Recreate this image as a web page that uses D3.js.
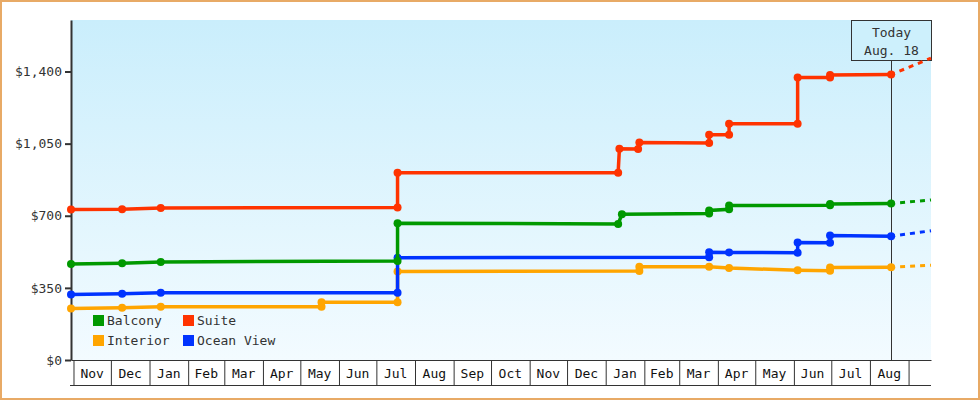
<!DOCTYPE html>
<html>
<head>
<meta charset="utf-8">
<script src="https://cdn.jsdelivr.net/npm/d3@7"></script>
<style>
  body { margin: 0; background: #fff; }
  svg { display: block; font-family: 'DejaVu Sans Mono', monospace; }
</style>
</head>
<body>
<div class="container"></div>
<script>
// price history per cabin type: [date, price]
const balcony = [
  ['2007-10-30', 466], ['2007-12-10', 470], ['2008-01-10', 476], ['2008-07-18', 480],
  ['2008-07-18', 664], ['2009-01-11', 660], ['2009-01-14', 707], ['2009-03-25', 711],
  ['2009-03-25', 726], ['2009-04-10', 731], ['2009-04-10', 750], ['2009-06-30', 751],
  ['2009-06-30', 757], ['2009-08-18', 759]
]
const suite = [
  ['2007-10-30', 730], ['2007-12-10', 731], ['2008-01-10', 738], ['2008-07-18', 740],
  ['2008-07-18', 909], ['2009-01-11', 909], ['2009-01-12', 1025], ['2009-01-27', 1024],
  ['2009-01-28', 1055], ['2009-03-25', 1053], ['2009-03-25', 1093], ['2009-04-10', 1093],
  ['2009-04-10', 1147], ['2009-06-04', 1146], ['2009-06-04', 1371], ['2009-06-30', 1371],
  ['2009-06-30', 1383], ['2009-08-18', 1385]
]
const interior = [
  ['2007-10-30', 250], ['2007-12-10', 253], ['2008-01-10', 258], ['2008-05-18', 259],
  ['2008-05-18', 280], ['2008-07-18', 280], ['2008-07-18', 430], ['2009-01-28', 432],
  ['2009-01-28', 453], ['2009-03-25', 453], ['2009-04-10', 446], ['2009-06-04', 436],
  ['2009-06-30', 433], ['2009-06-30', 449], ['2009-08-18', 450]
]
const oceanView = [
  ['2007-10-30', 318], ['2007-12-10', 321], ['2008-01-10', 326], ['2008-07-18', 326],
  ['2008-07-18', 496], ['2009-03-25', 499], ['2009-03-25', 523], ['2009-04-10', 522],
  ['2009-06-04', 521], ['2009-06-04', 570], ['2009-06-30', 569], ['2009-06-30', 604],
  ['2009-08-18', 601]
]

// projected price at the end of the window
const forecastDate = '2009-09-19'
const forecast = { Balcony: 777, Suite: 1465, Interior: 460, 'Ocean View': 627 }

const categories = ['Balcony', 'Suite', 'Interior', 'Ocean View']
const yTicks = [0, 350, 700, 1050, 1400]
const months = ['Nov', 'Dec', 'Jan', 'Feb', 'Mar', 'Apr', 'May', 'Jun', 'Jul', 'Aug', 'Sep',
  'Oct', 'Nov', 'Dec', 'Jan', 'Feb', 'Mar', 'Apr', 'May', 'Jun', 'Jul', 'Aug']
const firstMonth = '2007-11-01'
const startDate = '2007-10-30'
const today = '2009-08-18'
const todayLabel = ['Today', 'Aug. 18']

const seriesData = { Balcony: balcony, Suite: suite, Interior: interior, 'Ocean View': oceanView }
const colors = { Balcony: '#009900', Suite: '#ff3300', Interior: '#ffa500', 'Ocean View': '#0033ff' }
const drawOrder = ['Interior', 'Ocean View', 'Balcony', 'Suite']

const parse = d3.timeParse('%Y-%m-%d')
const w = 980
const h = 400
const plotLeft = 71
const plotRight = 931
const plotTop = 20
const plotBottom = 360

const svg = d3.select('.container')
  .append('svg')
  .attr('width', w)
  .attr('height', h)

const x = d3.scaleTime()
  .domain([parse(startDate), parse(forecastDate)])
  .range([plotLeft, plotRight])

const y = d3.scaleLinear()
  .domain([0, 1650])
  .range([plotBottom, plotTop])

// background
const grad = svg.append('defs').append('linearGradient')
  .attr('id', 'bg')
  .attr('x1', 0).attr('y1', 0).attr('x2', 0).attr('y2', 1)
grad.append('stop').attr('offset', '0%').attr('stop-color', '#caeefc')
grad.append('stop').attr('offset', '100%').attr('stop-color', '#f3fbff')

svg.append('rect')
  .attr('x', 1).attr('y', 1)
  .attr('width', w - 2).attr('height', h - 2)
  .attr('fill', '#fff')
  .attr('stroke', '#e8aa66')
  .attr('stroke-width', 2)

svg.append('rect')
  .attr('x', plotLeft).attr('y', plotTop)
  .attr('width', plotRight - plotLeft).attr('height', plotBottom - plotTop)
  .attr('fill', 'url(#bg)')

// month cells under the plot
const monthStarts = months.map((m, i) => d3.timeMonth.offset(parse(firstMonth), i))
const monthEnd = d3.timeMonth.offset(parse(firstMonth), months.length)

const xAxis = svg.append('g')
  .attr('transform', `translate(0, ${plotBottom})`)
  .call(d3.axisBottom(x)
    .tickValues(monthStarts.concat([monthEnd]))
    .tickSize(25)
    .tickSizeOuter(0)
    .tickFormat(''))
xAxis.select('.domain').attr('stroke', '#333')
xAxis.selectAll('.tick line').attr('stroke', '#333')

svg.append('line')
  .attr('x1', plotLeft - 1).attr('x2', plotRight)
  .attr('y1', plotBottom + 25.5).attr('y2', plotBottom + 25.5)
  .attr('stroke', '#333')

svg.append('g')
  .selectAll('text')
  .data(months)
  .join('text')
  .attr('x', (d, i) => (x(monthStarts[i]) + x(d3.timeMonth.offset(monthStarts[i], 1))) / 2)
  .attr('y', plotBottom + 13)
  .attr('dy', '0.35em')
  .attr('text-anchor', 'middle')
  .attr('font-size', 13)
  .attr('fill', '#111')
  .text(d => d)

// y axis
const yAxis = svg.append('g')
  .attr('transform', `translate(${plotLeft}, 0)`)
  .call(d3.axisLeft(y)
    .tickValues(yTicks)
    .tickSize(6)
    .tickPadding(3)
    .tickSizeOuter(0)
    .tickFormat(d => '$' + d3.format(',')(d)))
yAxis.select('.domain').attr('stroke', '#333').attr('stroke-width', 2)
yAxis.selectAll('.tick line').attr('stroke', '#333').attr('stroke-width', 2)
yAxis.selectAll('.tick text')
  .attr('font-family', 'DejaVu Sans Mono, monospace')
  .attr('font-size', 13)
  .attr('fill', '#333')

// today marker
const tx = Math.round(x(parse(today))) + 0.5
svg.append('line')
  .attr('x1', tx).attr('x2', tx)
  .attr('y1', plotTop + 40).attr('y2', plotBottom)
  .attr('stroke', '#333')

const box = svg.append('g')
box.append('rect')
  .attr('x', tx - 40).attr('y', plotTop + 0.5)
  .attr('width', 80).attr('height', 40)
  .attr('fill', '#cdf0fc')
  .attr('stroke', '#333')
box.selectAll('text')
  .data(todayLabel)
  .join('text')
  .attr('x', tx)
  .attr('y', (d, i) => plotTop + 12.5 + i * 18)
  .attr('dy', '0.35em')
  .attr('text-anchor', 'middle')
  .attr('font-size', 13)
  .attr('fill', '#333')
  .text(d => d)

// series
const line = d3.line()
  .x(d => x(parse(d[0])))
  .y(d => y(d[1]))

drawOrder.forEach(name => {
  const data = seriesData[name]
  const last = data[data.length - 1]

  svg.append('path')
    .datum([last, [forecastDate, forecast[name]]])
    .attr('d', line)
    .attr('fill', 'none')
    .attr('stroke', colors[name])
    .attr('stroke-width', 3)
    .attr('stroke-dasharray', '5,5')
    .attr('stroke-dashoffset', 1)

  svg.append('path')
    .datum(data)
    .attr('d', line)
    .attr('fill', 'none')
    .attr('stroke', colors[name])
    .attr('stroke-width', 3.5)

  svg.append('g')
    .selectAll('circle')
    .data(data)
    .join('circle')
    .attr('cx', d => x(parse(d[0])))
    .attr('cy', d => y(d[1]))
    .attr('r', 4)
    .attr('fill', colors[name])
})

// legend
const legend = svg.append('g')
  .selectAll('g')
  .data(categories)
  .join('g')
  .attr('transform', (d, i) => `translate(${93 + (i % 2) * 90}, ${315 + Math.floor(i / 2) * 20})`)

legend.append('rect')
  .attr('width', 11).attr('height', 11)
  .attr('fill', d => colors[d])

legend.append('text')
  .attr('x', 14)
  .attr('y', 5.5)
  .attr('dy', '0.35em')
  .attr('font-size', 13)
  .attr('fill', '#333')
  .text(d => d)
</script>
</body>
</html>
